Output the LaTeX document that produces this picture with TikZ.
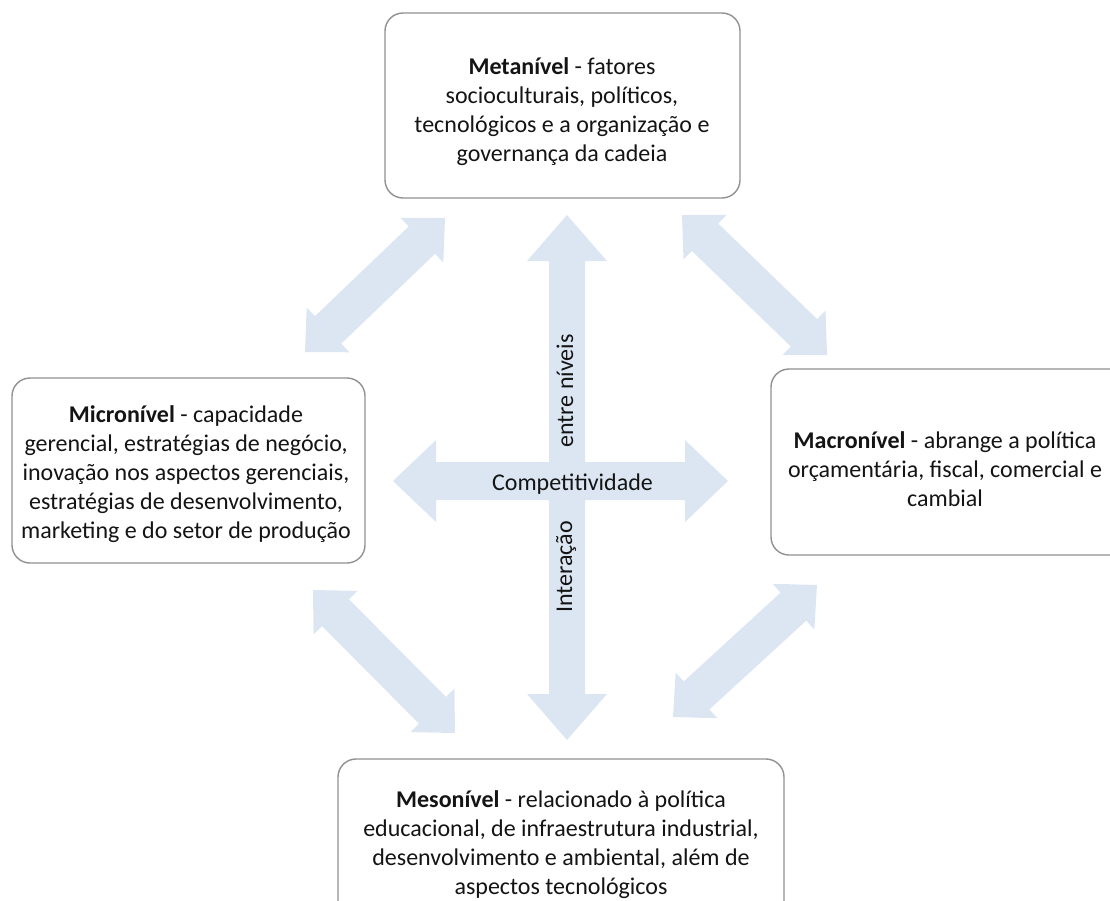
\documentclass[tikz,border=0pt]{standalone}
\usepackage{fontspec}
\setmainfont{Carlito}
\usetikzlibrary{calc}
\definecolor{arrowfill}{RGB}{220,230,242}
\definecolor{boxline}{RGB}{145,145,145}
\definecolor{txt}{RGB}{20,20,20}
% double-headed block arrow between two named coordinates
% #1,#2 tips; #3 shaft half width; #4 head half width; #5 head length
\newcommand\dblarrow[5]{%
  \fill[arrowfill] let \p1=(#1), \p2=(#2),
    \n1={atan2(\y2-\y1,\x2-\x1)}, \n2={veclen(\x2-\x1,\y2-\y1)} in
    [shift={(\p1)}, rotate=\n1]
    (0pt,0pt) -- (#5,#4) -- (#5,#3) -- ({\n2*1pt-#5},#3) -- ({\n2*1pt-#5},#4)
    -- ({\n2*1pt},0pt) -- ({\n2*1pt-#5},-#4) -- ({\n2*1pt-#5},-#3)
    -- (#5,-#3) -- (#5,-#4) -- cycle;}
\begin{document}
\begin{tikzpicture}[x=1pt,y=-1pt,
  levelbox/.style={draw=boxline, line width=1.4pt, rounded corners=18pt, fill=white, inner sep=0pt},
  boxtext/.style={text=txt, align=center, inner sep=0pt, font=\fontsize{24}{29}\selectfont},
  arrowtext/.style={text=txt, inner sep=0pt, font=\fontsize{24}{29}\selectfont}]
\clip (0,0) rectangle (1110,900);
\useasboundingbox (0,0) rectangle (1110,900);

% boxes
\node[levelbox, minimum width=355pt, minimum height=185pt] (meta) at (562.5,105.5) {};
\node[levelbox, minimum width=353pt, minimum height=185pt] (micro) at (188.5,470.5) {};
\node[levelbox, minimum width=390pt, minimum height=186pt] (macro) at (966,462) {};
\node[levelbox, minimum width=446pt, minimum height=186pt] (meso) at (561,852) {};

% box texts
\node[boxtext] (metatext) at (562,112) {\textbf{Metanível} - fatores\\socioculturais, políticos,\\tecnológicos e a organização e\\governança da cadeia};
\node[boxtext] (microtext) at (186,474) {\textbf{Micronível} - capacidade\\gerencial, estratégias de negócio,\\inovação nos aspectos gerenciais,\\estratégias de desenvolvimento,\\marketing e do setor de produção};
\node[boxtext] (macrotext) at (945,469) {\textbf{Macronível} - abrange a política\\orçamentária, fiscal, comercial e\\cambial};
\node[boxtext] (mesotext) at (561,845) {\textbf{Mesonível} - relacionado à política\\educacional, de infraestrutura industrial,\\desenvolvimento e ambiental, além de\\aspectos tecnológicos};

% arrow end points
\coordinate (vtop) at (567,215);
\coordinate (vbot) at (567,740);
\coordinate (hleft) at (393,481);
\coordinate (hright) at (728,481);
\coordinate (ulA) at (305,352);
\coordinate (ulB) at (445,218);
\coordinate (urA) at (682,215);
\coordinate (urB) at (827,355);
\coordinate (llA) at (313,590);
\coordinate (llB) at (455,733);
\coordinate (lrA) at (673,717);
\coordinate (lrB) at (817,585);

% diagonal arrows
\dblarrow{ulA}{ulB}{19pt}{31pt}{32pt}
\dblarrow{urA}{urB}{19pt}{31pt}{32pt}
\dblarrow{llA}{llB}{19pt}{31pt}{32pt}
\dblarrow{lrA}{lrB}{19pt}{31pt}{32pt}

% central cross
\dblarrow{vbot}{vtop}{18pt}{40pt}{46pt}
\dblarrow{hleft}{hright}{19pt}{41pt}{43pt}

% cross labels
\node[arrowtext, anchor=base] (comp) at (572.5,490) {Competitividade};
\node[arrowtext, anchor=base, rotate=90] (entre) at (573,391) {entre níveis};
\node[arrowtext, anchor=base, rotate=90] (inter) at (572,567) {Interação};
\end{tikzpicture}
\end{document}
